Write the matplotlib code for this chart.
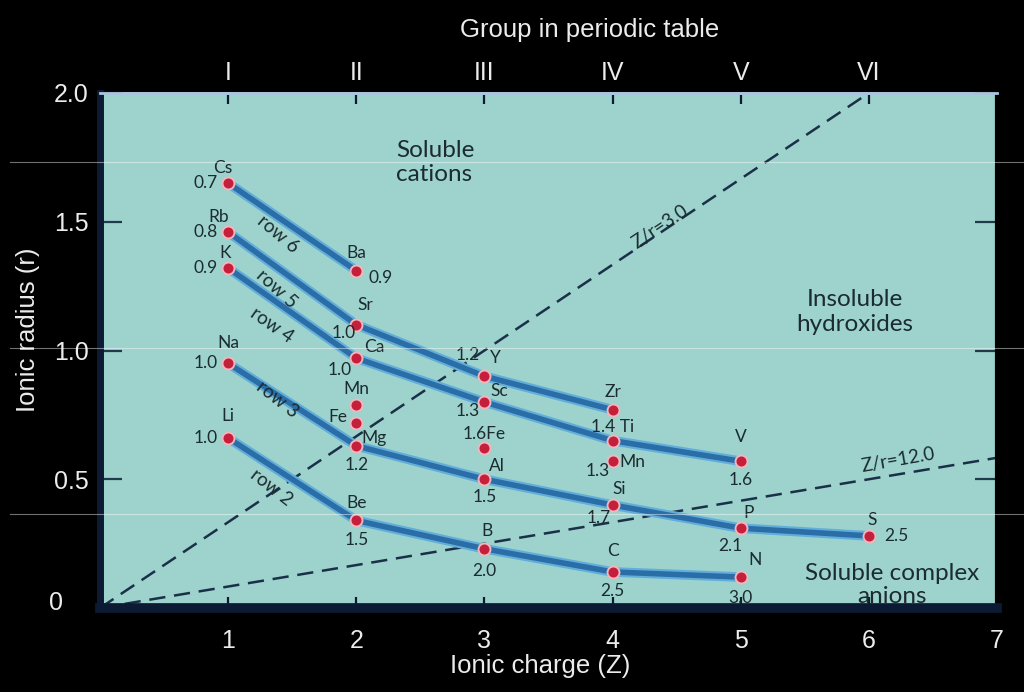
import matplotlib.pyplot as plt
from matplotlib.lines import Line2D
import numpy as np

# --- data ---
elements = ["Cs", "Rb", "K", "Na", "Li",
            "Ba", "Sr", "Ca", "Mn", "Fe", "Mg", "Be",
            "Y", "Sc", "Fe", "Al", "B",
            "Zr", "Ti", "Mn", "Si", "C",
            "V", "P", "N", "S"]
charge = [1, 1, 1, 1, 1,
          2, 2, 2, 2, 2, 2, 2,
          3, 3, 3, 3, 3,
          4, 4, 4, 4, 4,
          5, 5, 5, 6]
radius = [1.65, 1.46, 1.32, 0.95, 0.66,
          1.31, 1.10, 0.97, 0.79, 0.72, 0.63, 0.34,
          0.90, 0.80, 0.62, 0.50, 0.23,
          0.77, 0.65, 0.57, 0.40, 0.14,
          0.57, 0.31, 0.12, 0.28]
zr_ratio = ["0.7", "0.8", "0.9", "1.0", "1.0",
            "0.9", "1.0", "1.0", "", "", "1.2", "1.5",
            "1.2", "1.3", "", "1.5", "2.0",
            "", "", "1.3", "1.7", "2.5",
            "1.6", "2.1", "3.0", "2.5"]

rows = {
    "row 6": ["Cs", "Ba"],
    "row 5": ["Rb", "Sr", "Y", "Zr"],
    "row 4": ["K", "Ca", "Sc", "Ti", "V"],
    "row 3": ["Na", "Mg", "Al", "Si", "P", "S"],
    "row 2": ["Li", "Be", "B", "C", "N"],
}
groups = ["I", "II", "III", "IV", "V", "VI"]
zr_lines = [3.0, 12.0]

# --- label placement (pixel offsets from each point) ---
sym_pos = [(-5, 15, "center"), (-9, 15, "center"), (-3, 15, "center"), (0, 20, "center"), (0, 22, "center"),
           (0, 18, "center"), (9, 20, "center"), (8, 11, "left"), (0, 16, "center"), (-9, 6, "right"), (5, 8, "left"), (0, 17, "center"),
           (6, 18, "left"), (6, 11, "left"), (0, 0, "center"), (5, 13, "left"), (3, 18, "center"),
           (0, 18, "center"), (0, 0, "center"), (7, -1, "left"), (7, 16, "center"), (0, 21, "center"),
           (0, 24, "center"), (8, 15, "center"), (14, 17, "center"), (3, 16, "center")]
num_pos = [(-10, 0, "right"), (-10, 0, "right"), (-10, 0, "right"), (-10, 0, "right"), (-10, 0, "right"),
           (12, -7, "left"), (-1, -8, "right"), (-5, -12, "right"), None, None, (0, -19, "center"), (0, -20, "center"),
           (-5, 21, "right"), (-5, -9, "right"), None, (0, -18, "center"), (0, -22, "center"),
           None, None, (-3, -10, "right"), (-2, -13, "right"), (0, -19, "center"),
           (0, -19, "center"), (-10, -18, "center"), (0, -21, "center"), (15, 0, "left")]

BG = "#9dd3cc"
NAVY = "#0d1a33"
INK = "#1b2b30"
WHITE = "#ececec"
inner_font = ["Lato", "DejaVu Sans"]
outer_font = ["Liberation Sans", "DejaVu Sans"]

fig = plt.figure(figsize=(10.24, 6.92), dpi=100, facecolor="black")
ax = fig.add_axes([100 / 1024, 1 - 608 / 692, 897 / 1024, 515 / 692])
ax.set_facecolor(BG)
ax.set_xlim(0, 7)
ax.set_ylim(0, 2)

# Z/r boundary lines
zz = np.array([0, 7.0])
for k in zr_lines:
    ax.plot(zz, zz / k, color="#1a3048", lw=1.8, dashes=(6.5, 3.5), zorder=2)

# row lines
lookup = {}
for e, z, r in zip(elements, charge, radius):
    lookup.setdefault(e, []).append((z, r))

for name, members in rows.items():
    xs, ys = [], []
    for m in members:
        cand = [p for p in lookup[m] if not xs or p[0] > xs[-1]]
        z, r = cand[0]
        xs.append(z)
        ys.append(r)
    ax.plot(xs, ys, color="#62aedb", lw=7, solid_capstyle="round", zorder=3)
    ax.plot(xs, ys, color="#2b6da6", lw=4, solid_capstyle="round", zorder=4)

# points
ax.scatter(charge, radius, s=100, color="#f2b6bd", zorder=5, linewidths=0)
ax.scatter(charge, radius, s=52, color="#c41f3b", zorder=6, linewidths=0)

# element labels and Z/r values
for i, (e, z, r) in enumerate(zip(elements, charge, radius)):
    dx, dy, ha = sym_pos[i]
    text = e
    if e == "Fe" and z == 3:
        text, dx, dy = "1.6Fe", 0, 14
    if e == "Ti":
        text, dx, dy = "1.4 Ti", 0, 14
    ax.annotate(text, (z, r), xytext=(dx, dy), textcoords="offset pixels",
                ha=ha, va="center", fontsize=12.5, color=INK, family=inner_font, zorder=7)
    if num_pos[i] is not None and zr_ratio[i]:
        dx, dy, ha = num_pos[i]
        ax.annotate(zr_ratio[i], (z, r), xytext=(dx, dy), textcoords="offset pixels",
                    ha=ha, va="center", fontsize=12.5, color=INK, family=inner_font, zorder=7)

# row labels
row_lab = {"row 6": (1.39, 1.45, -40), "row 5": (1.38, 1.24, -42), "row 4": (1.34, 1.10, -35),
           "row 3": (1.38, 0.81, -38), "row 2": (1.34, 0.47, -38)}
for name, (x, y, rot) in row_lab.items():
    ax.text(x, y, name, rotation=rot, ha="center", va="center", fontsize=13.5,
            color=INK, family=inner_font, zorder=7)

# region and line labels
ax.text(4.37, 1.48, "Z/r=3.0", rotation=34, ha="center", va="center", fontsize=13.5,
        color=INK, family=inner_font)
ax.text(6.23, 0.575, "Z/r=12.0", rotation=10, ha="center", va="center", fontsize=13.5,
        color=INK, family=inner_font)
ax.text(2.31, 1.73, "Soluble\ncations", ha="left", va="center", fontsize=17.5,
        color=INK, family=inner_font, linespacing=1.2)
ax.text(5.89, 1.15, "Insoluble\nhydroxides", ha="center", va="center", fontsize=17.5,
        color=INK, family=inner_font, linespacing=1.2)
ax.text(6.18, 0.09, "Soluble complex\nanions", ha="center", va="center", fontsize=17.5,
        color=INK, family=inner_font, linespacing=1.15)

# axes, ticks
ax.set_xticks(range(1, 8))
ax.set_xticklabels([str(i) for i in range(1, 8)])
ax.set_yticks([0, 0.5, 1.0, 1.5, 2.0])
ax.set_yticklabels(["", "0.5", "1.0", "1.5", "2.0"])
ax.tick_params(axis="x", direction="in", length=8, width=1.6, color=NAVY,
               labelcolor=WHITE, labelsize=18, pad=15)
ax.tick_params(axis="y", direction="in", length=16, width=1.6, color="#1f3a4a",
               labelcolor=WHITE, labelsize=18, pad=8, right=True)
for lab in ax.get_xticklabels() + ax.get_yticklabels():
    lab.set_family(outer_font)
# the zero label sits further left in the reference
fig.text(56 / 1024, 1 - 603 / 692, "0", ha="center", va="center", fontsize=18,
         color=WHITE, family=outer_font)

top = ax.secondary_xaxis("top")
top.set_xticks(range(1, 7))
top.set_xticklabels(groups)
top.tick_params(direction="in", length=8, width=1.6, color=NAVY,
                labelcolor=WHITE, labelsize=18, pad=6)
for lab in top.get_xticklabels():
    lab.set_family(outer_font)
top.spines["top"].set_color("#a9c6de")
top.spines["top"].set_linewidth(2)

ax.spines["left"].set_color(NAVY)
ax.spines["left"].set_linewidth(5)
ax.spines["bottom"].set_color(NAVY)
ax.spines["bottom"].set_linewidth(7)
ax.spines["top"].set_color("#a9c6de")
ax.spines["top"].set_linewidth(2)
ax.spines["right"].set_color("black")
ax.spines["right"].set_linewidth(3)

fig.text(540 / 1024, 1 - 666 / 692, "Ionic charge (Z)", ha="center", va="center",
         fontsize=18.5, color=WHITE, family=outer_font)
fig.text(28 / 1024, 1 - 330 / 692, "Ionic radius (r)", ha="center", va="center",
         rotation=90, fontsize=18.5, color=WHITE, family=outer_font)
fig.text(590 / 1024, 1 - 30 / 692, "Group in periodic table", ha="center", va="center",
         fontsize=18.5, color=WHITE, family=outer_font)

# faint scan lines across the picture
for ypx in [162, 348, 514]:
    fig.add_artist(Line2D([0.01, 1], [1 - ypx / 692] * 2, transform=fig.transFigure,
                          color="white", lw=0.8, alpha=0.45, zorder=10))

fig.savefig("out.png", dpi=100, facecolor="black")
